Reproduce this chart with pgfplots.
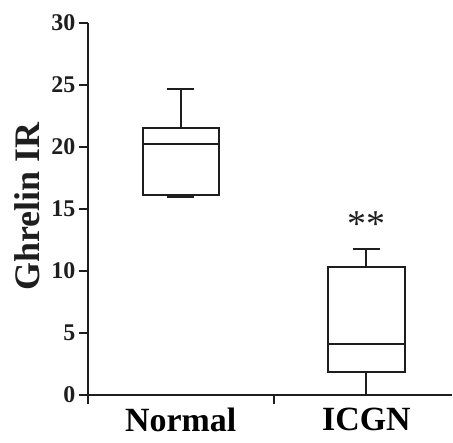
\documentclass[border=0pt]{standalone}
\usepackage{pgfplots}
\pgfplotsset{compat=1.18}
\usepgfplotslibrary{statistics}
\usepackage{fontspec}
\setmainfont{Liberation Serif}
\definecolor{ink}{HTML}{1E1E1E}
\begin{document}
\begin{tikzpicture}
% page frame: the reference leaves white space round the plot
\path (-88pt,-48pt) rectangle (365pt,396pt);
\begin{axis}[
  at={(0pt,0pt)}, anchor=south west,
  scale only axis, width=365pt, height=373.3pt,
  xmin=0.5, xmax=2.46, ymin=0, ymax=30,
  axis lines=left, axis line style={-, line width=2.2pt, ink},
  ytick={0,5,...,30},
  xtick={0.5,1.5}, xticklabels={},
  extra x ticks={1,2}, extra x tick labels={Normal,ICGN},
  extra x tick style={major tick length=0pt,
    xticklabel style={font=\fontsize{34}{34}\selectfont\bfseries, yshift=-13pt,
      inner sep=0pt}},
  tick align=outside, major tick length=9pt,
  tick style={line width=2pt, ink},
  /pgf/number format/assume math mode=true,
  yticklabel style={font=\fontsize{24}{24}\selectfont\bfseries, ink},
  ylabel={Ghrelin IR},
  ylabel style={font=\fontsize{36}{36}\selectfont\bfseries, ink,
    at={(axis description cs:-0.167,0.506)}, anchor=center},
  boxplot/draw direction=y,
]
\addplot[ink, line width=2pt, solid,
  boxplot prepared={lower whisker=15.95, lower quartile=16.08, median=20.26,
    upper quartile=21.52, upper whisker=24.65, draw position=1,
    box extend=0.41, whisker extend=0.145}]
  coordinates {};
\addplot[ink, line width=2pt, solid,
  boxplot prepared={lower whisker=0, lower quartile=1.85, median=4.08,
    upper quartile=10.35, upper whisker=11.79, draw position=2,
    box extend=0.41, whisker extend=0.145}]
  coordinates {};
\node[font=\fontsize{38}{38}\selectfont, ink, anchor=base, inner sep=0pt]
  at (axis cs:2,12.8) {**};
\end{axis}
\end{tikzpicture}
\end{document}
